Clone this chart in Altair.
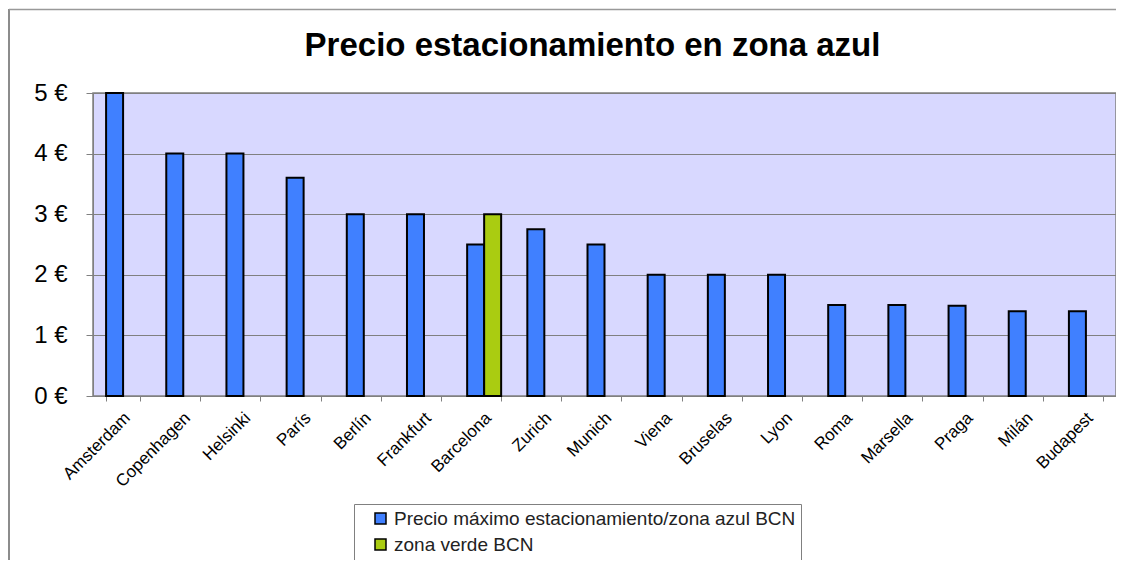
import altair as alt
import pandas as pd

cities = ["Amsterdam", "Copenhagen", "Helsinki", "París", "Berlín", "Frankfurt",
          "Barcelona", "Zurich", "Munich", "Viena", "Bruselas", "Lyon", "Roma",
          "Marsella", "Praga", "Milán", "Budapest"]
azul = [5, 4, 4, 3.6, 3, 3, 2.5, 2.75, 2.5, 2, 2, 2, 1.5, 1.5, 1.49, 1.4, 1.4]
verde_city = ["Barcelona"]
verde = [3]

s1 = "Precio máximo estacionamiento/zona azul BCN"
s2 = "zona verde BCN"
series = [s1, s2]
colors = ["#4080FF", "#AACC11"]

rows = [{"city": c, "serie": s1, "value": v} for c, v in zip(cities, azul)]
rows += [{"city": c, "serie": s2, "value": v} for c, v in zip(verde_city, verde)]
df = pd.DataFrame(rows)

W, H = 1023, 303
FONT = "Liberation Sans"

bars = alt.Chart(df).mark_bar(stroke="black", strokeWidth=2).encode(
    x=alt.X("city:N", sort=cities, title=None,
            scale=alt.Scale(paddingInner=0.435, paddingOuter=0.2175),
            axis=alt.Axis(labelAngle=-45, labelAlign="right", labelBaseline="middle",
                          labelFontSize=17, labelFont=FONT, labelColor="black",
                          tickBand="extent", tickSize=5, tickColor="#808080",
                          domainColor="#808080", labelPadding=14, labelOffset=4)),
    xOffset=alt.XOffset("serie:N", sort=series, scale=alt.Scale(domain=series, paddingInner=0, paddingOuter=0)),
    y=alt.Y("value:Q", title=None,
            scale=alt.Scale(domain=[0, 5], nice=False),
            axis=alt.Axis(values=[0, 1, 2, 3, 4, 5], labelExpr="datum.value + ' €'",
                          labelFontSize=24, labelFont=FONT, labelColor="black",
                          tickSize=7, tickColor="#808080", domainColor="#808080",
                          gridColor="#808080", gridWidth=1, labelPadding=19)),
    color=alt.Color("serie:N", sort=series,
                    scale=alt.Scale(domain=series, range=colors),
                    legend=alt.Legend(title=None, orient="none", legendX=261, legendY=411,
                                      direction="vertical", symbolType="square",
                                      symbolSize=121, symbolStrokeColor="black",
                                      symbolStrokeWidth=1.5, symbolOffset=12,
                                      labelFontSize=19, labelFont=FONT, labelColor="#222222",
                                      rowPadding=6, padding=5, strokeColor="#808080",
                                      fillColor="white", labelLimit=600)),
)

frame_left = alt.Chart(pd.DataFrame({"a": [0]})).mark_rule(color="#666666", strokeWidth=1.5).encode(
    x=alt.value(-84), y=alt.value(-84), y2=alt.value(H + 180))
frame_top = alt.Chart(pd.DataFrame({"a": [0]})).mark_rule(color="#999999", strokeWidth=1.5).encode(
    x=alt.value(-84), x2=alt.value(W + 20), y=alt.value(-83.5))

chart = alt.layer(frame_left, frame_top, bars).properties(
    width=W, height=H,
    autosize=alt.AutoSizeParams(type="none"),
    padding={"left": 85, "top": 85, "right": 0, "bottom": 164},
    title=alt.TitleParams("Precio estacionamiento en zona azul", fontSize=33, font=FONT,
                          fontWeight="bold", anchor="middle", dx=-12, dy=106, offset=25,
                          baseline="alphabetic", color="black"),
).configure_view(fill="#D8D8FF", stroke="#808080", strokeWidth=1.5).configure_axis(grid=True).configure_axisX(grid=False)

chart.save("out.html", embed_options={"renderer": "svg", "actions": False})
